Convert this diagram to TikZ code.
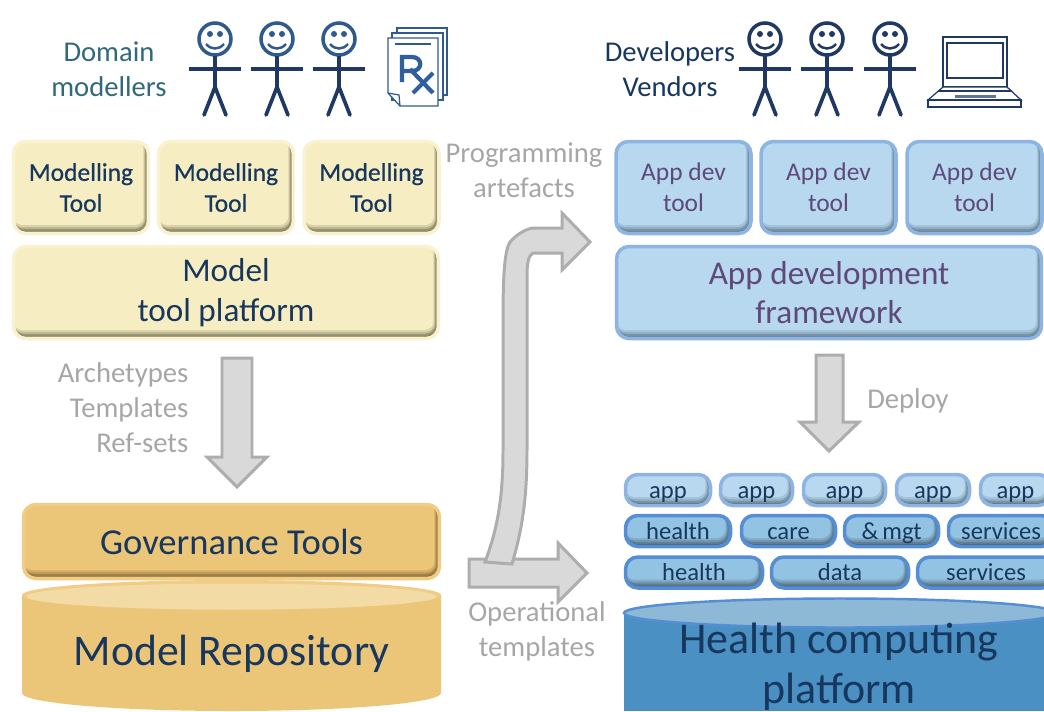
\documentclass[tikz,border=0pt]{standalone}
\usepackage{fontspec}
\setmainfont{Carlito}
\newfontface\semibold[FakeBold=0.6]{Carlito}
\usepackage{xcolor}
\usepackage{tikz}
\usetikzlibrary{calc}

\definecolor{creamfill}{HTML}{F6EEC2}
\definecolor{creamedge}{HTML}{F8F2D0}
\definecolor{creamdark}{HTML}{6F6B50}
\definecolor{creammid}{HTML}{BDB68F}
\definecolor{sandfill}{HTML}{ECC678}
\definecolor{sandedge}{HTML}{F0CC84}
\definecolor{sanddark}{HTML}{7D6433}
\definecolor{sandmid}{HTML}{BD9A55}
\definecolor{sandtop}{HTML}{F3DBA6}
\definecolor{skyfill}{HTML}{B7D8EE}
\definecolor{skyedge}{HTML}{8DB4E2}
\definecolor{skydark}{HTML}{5C7382}
\definecolor{skymid}{HTML}{8FAEC2}
\definecolor{midfill}{HTML}{93C3E3}
\definecolor{midedge}{HTML}{558ED5}
\definecolor{middark}{HTML}{4A6478}
\definecolor{midmid}{HTML}{7196AE}
\definecolor{seafill}{HTML}{4A90C2}
\definecolor{seatop}{HTML}{8DB9D6}
\definecolor{navytext}{HTML}{17375E}
\definecolor{plumtext}{HTML}{5F497A}
\definecolor{tealtext}{HTML}{31697A}
\definecolor{greytext}{HTML}{A6A6A6}
\definecolor{arrowfill}{HTML}{D9D9D9}
\definecolor{arrowedge}{HTML}{ADADAD}
\definecolor{manbody}{HTML}{1F3864}
\definecolor{manhead}{HTML}{2F5A8F}
\definecolor{rxblue}{HTML}{2F5F9F}

\begin{document}
\begin{tikzpicture}[
  x=0.02cm, y=-0.02cm,
  bevel/.style n args={4}{
    draw=#1, line width=2pt, rounded corners=7pt, outer sep=0pt, inner sep=0pt, align=center,
    path picture={
      \fill[#3] (path picture bounding box.south west) rectangle (path picture bounding box.north east);
      \fill[#3!50!#4, rounded corners=6pt] (path picture bounding box.north west) rectangle ($(path picture bounding box.south east)+(-1.5,-2.5)$);
      \fill[#4, rounded corners=6pt] (path picture bounding box.north west) rectangle ($(path picture bounding box.south east)+(-3,-4.5)$);
      \fill[#4!50!#2, rounded corners=5pt] (path picture bounding box.north west) rectangle ($(path picture bounding box.south east)+(-4,-6.5)$);
      \fill[#2, rounded corners=5pt] (path picture bounding box.north west) rectangle ($(path picture bounding box.south east)+(-5,-8.5)$);
    }},
  creambox/.style={bevel={creamedge}{creamfill}{creamdark}{creammid}, text=navytext},
  sandbox/.style={bevel={sandedge}{sandfill}{sanddark}{sandmid}, text=navytext},
  skybox/.style={bevel={skyedge}{skyfill}{skydark}{skymid}, text=plumtext},
  smalltext/.style={font=\fontsize{14}{16}\selectfont, text height=11pt, text depth=1.6pt, minimum height=0.62cm},
  appbox/.style={bevel={skyedge}{skyfill}{skydark}{skymid}, text=navytext, smalltext},
  svcbox/.style={bevel={midedge}{midfill}{middark}{midmid}, text=navytext, smalltext},
  toolsize/.style={minimum width=2.70cm, minimum height=1.84cm, font=\fontsize{14.5}{17.6}\selectfont},
  widesize/.style={minimum width=8.5cm, minimum height=1.84cm, font=\fontsize{18.9}{22.5}\selectfont},
  label/.style={align=center, inner sep=0pt, font=\fontsize{16.3}{20}\selectfont},
  blockarrow/.style={fill=arrowfill, draw=arrowedge, line width=1.7pt, line join=miter},
  pics/stickman/.style={code={
    \draw[#1, line width=2pt] (0,0) circle (16);
    \fill[#1] (-5,-5) circle (3);
    \fill[#1] (5,-5) circle (3);
    \draw[#1, line width=1.4pt] (-9,5) .. controls (-4,11) and (4,11) .. (9,5);
    \draw[manbody, line width=2.1pt] (0,17) -- (0,48);
    \draw[manbody, line width=2.1pt] (-26,30) -- (26,30);
    \draw[manbody, line width=2.1pt, line cap=round] (-11,76) -- (0,48) -- (11,76);
  }}
]
\clip (0,0) rectangle (1044,711);

% Left people
\node[label, text=tealtext] (domain) at (109,69) {Domain\\modellers};
\pic at (215,39) {stickman=manhead};
\pic at (277,39) {stickman=manhead};
\pic at (339,39) {stickman=manhead};

% Rx pages
\begin{scope}[draw=manhead, line width=0.7pt]
  \draw[fill=white] (397,28) rectangle (447,95);
  \draw[fill=white] (392,33) rectangle (443,100);
  \draw[fill=white] (388,38) -- (438,38) -- (438,106) -- (400,106) -- (388,93) -- cycle;
  \draw (400,106) -- (399,95) -- (388,93);
  \draw (395,44) -- (431,44);
\end{scope}
\draw[rxblue, line width=2.4pt] (402,82) -- (402,57) -- (412,57) .. controls (423,57) and (423,71) .. (412,71) -- (402,71);
\draw[rxblue, line width=2.4pt] (410,69) -- (433,93);
\draw[rxblue, line width=2.4pt] (413,93) -- (433,73);

% Right people
\node[label, text=navytext] (devs) at (670,69) {Developers\\Vendors};
\pic at (765,39) {stickman=manbody};
\pic at (827,39) {stickman=manbody};
\pic at (890,39) {stickman=manbody};

% Laptop
\begin{scope}[draw=manbody, line width=0.7pt]
  \draw[fill=white] (943,37) rectangle (1007,87);
  \draw (947,43) rectangle (1003,78);
  \draw[fill=white] (943,87) -- (1007,87) -- (1021,100) -- (928,100) -- cycle;
  \draw[fill=white] (928,100) rectangle (1021,107);
  \draw (938,91) -- (1012,91);
  \fill[manbody!70] (955,95) rectangle (996,98);
\end{scope}

% Modelling side
\node[creambox, toolsize] (tool1) at (81,187.5) {\semibold Modelling\\\semibold Tool};
\node[creambox, toolsize] (tool2) at (226,187.5) {\semibold Modelling\\\semibold Tool};
\node[creambox, toolsize] (tool3) at (371.5,187.5) {\semibold Modelling\\\semibold Tool};
\node[creambox, widesize] (toolplat) at (226,292.5) {Model\\tool platform};

% App dev side
\node[skybox, toolsize] (dev1) at (683.5,187.5) {App dev\\tool};
\node[skybox, toolsize] (dev2) at (828.5,187.5) {App dev\\tool};
\node[skybox, toolsize] (dev3) at (974.5,187.5) {App dev\\tool};
\node[skybox, widesize] (devframe) at (829,292.5) {App development\\framework};

% Arrows
\draw[blockarrow] (222,358) -- (252,358) -- (252,457) -- (267,457) -- (237,487) -- (207,457) -- (222,457) -- cycle;
\draw[blockarrow] (816,355) -- (843,355) -- (843,422) -- (859,422) -- (829,451) -- (800,422) -- (816,422) -- cycle;
\draw[blockarrow] (469,559) -- (558,559) -- (558,543) -- (587,573) -- (558,602) -- (558,587) -- (469,587) -- cycle;
\draw[blockarrow] (485,562) .. controls (497,530) and (503,500) .. (503,450) -- (503,320)
  .. controls (503,270) and (505,250) .. (510,242) .. controls (516,235) and (524,230) .. (532,228)
  -- (562,228) -- (562,213) -- (590,242) -- (562,270) -- (562,253) -- (533,253)
  .. controls (529,255) and (527,262) .. (527,275) -- (527,450)
  .. controls (527,500) and (522,530) .. (512,564) -- cycle;

% Arrow texts
\node[label, text=greytext] (progart) at (524,170) {Programming\\artefacts};
\node[label, text=greytext, align=right] (artefs) at (123,408) {Archetypes\\Templates\\Ref-sets};
\node[label, text=greytext] (deploy) at (908,401) {Deploy};
\node[label, text=greytext] (optempl) at (537,631) {Operational\\templates};

% Repository
\fill[sandfill] (22,595) -- (22,693) arc[start angle=180, end angle=360, x radius=209.5, y radius=-18] -- (441,595) -- cycle;
\fill[sandedge] (231.5,595) ellipse (209.5 and 15);
\fill[sandtop] (231.5,596.5) ellipse (205 and 13);
\node[sandbox, minimum width=8.32cm, minimum height=1.48cm, font=\fontsize{20.8}{24}\selectfont] (govern) at (231.5,541.5) {Governance Tools};
\node[inner sep=0pt, text=navytext, font=\fontsize{24.9}{28}\selectfont] (repo) at (231.5,654) {Model Repository};

% Apps
\node[appbox, minimum width=1.70cm] (app1) at (668,490) {app};
\node[appbox, minimum width=1.44cm] (app2) at (756.5,490) {app};
\node[appbox, minimum width=1.64cm] (app3) at (844.5,490) {app};
\node[appbox, minimum width=1.46cm] (app4) at (933,490) {app};
\node[appbox, minimum width=1.40cm] (app5) at (1015.5,490) {app};

% Services
\node[svcbox, minimum width=2.10cm] (care1) at (678,531) {health};
\node[svcbox, minimum width=1.88cm] (care2) at (788.5,531) {care};
\node[svcbox, minimum width=1.88cm] (care3) at (891.5,531) {\&\,mgt};
\node[svcbox, minimum width=2.10cm] (care4) at (1001,531) {services};
\node[svcbox, minimum width=2.74cm] (data1) at (694,572.5) {health};
\node[svcbox, minimum width=2.74cm] (data2) at (840,572.5) {data};
\node[svcbox, minimum width=2.74cm] (data3) at (986,572.5) {services};

% Platform
\fill[seafill] (624,613) -- (624,711) -- (1056,711) -- (1056,613) -- cycle;
\draw[fill=seatop, draw=midedge, line width=1.4pt] (840,613) ellipse (216 and 14.5);
\node[inner sep=0pt, align=center, text=navytext, font=\fontsize{25}{28.5}\selectfont] (healthplat) at (839,667) {Health computing\\platform};
\end{tikzpicture}
\end{document}
